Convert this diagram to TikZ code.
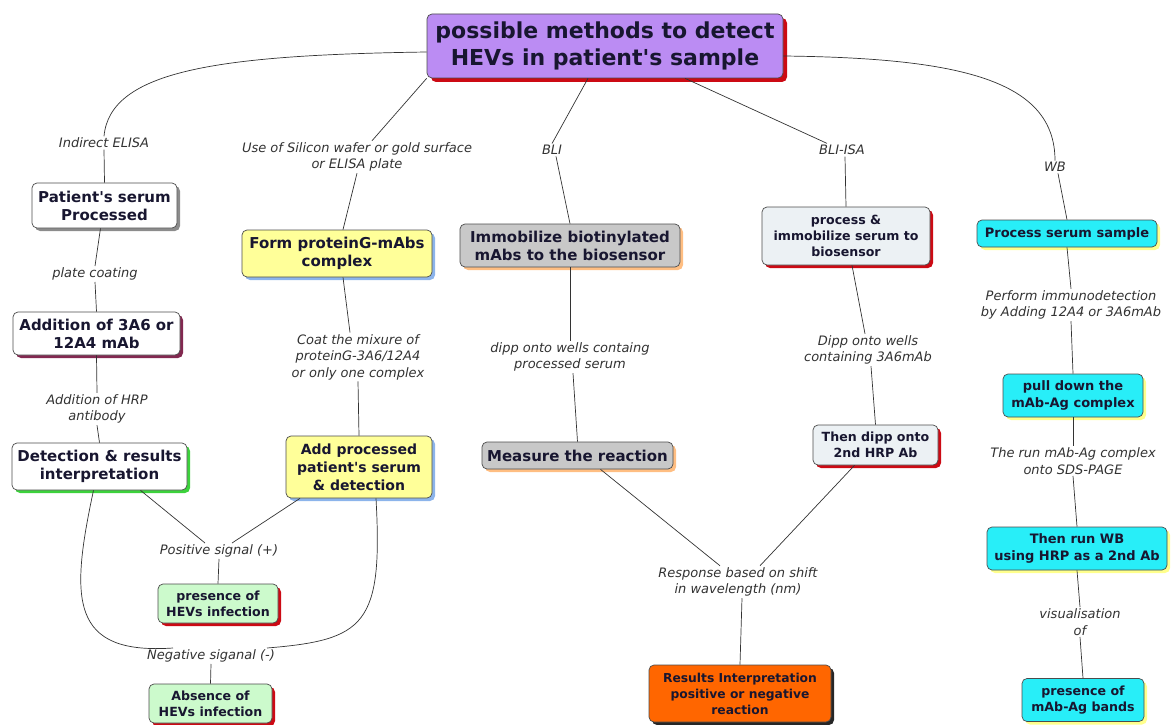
\documentclass[tikz,border=0pt]{standalone}
\usepackage{fontspec}
\setmainfont{DejaVu Sans}
\usetikzlibrary{shadows}

\definecolor{inkc}{RGB}{24,22,48}
\definecolor{lblc}{RGB}{50,50,50}
\definecolor{titlec}{RGB}{187,140,243}
\definecolor{redsh}{RGB}{204,10,20}
\definecolor{paleg}{RGB}{204,250,204}
\definecolor{yelc}{RGB}{255,255,153}
\definecolor{bluesh}{RGB}{140,180,235}
\definecolor{grayc}{RGB}{200,200,200}
\definecolor{orsh}{RGB}{255,190,130}
\definecolor{palec}{RGB}{236,241,244}
\definecolor{orc}{RGB}{255,102,0}
\definecolor{cyanc}{RGB}{40,238,248}
\definecolor{yelsh}{RGB}{255,255,140}
\definecolor{maroonsh}{RGB}{130,40,80}
\definecolor{greensh}{RGB}{60,210,60}

\newcommand{\apos}{\textquotesingle}

\begin{document}
\begin{tikzpicture}[x=1pt,y=1pt,
  box/.style={draw=black!70, line width=0.7pt, rounded corners=5pt,
    align=center, text=inkc, inner sep=0pt},
  shadowed/.style={drop shadow={fill=#1, opacity=1,
    shadow xshift=3pt, shadow yshift=-3pt}},
  sz/.style 2 args={minimum width=#1, minimum height=#2},
  fbig/.style={font=\bfseries\fontsize{15}{18}\selectfont},
  fmid/.style={font=\bfseries\fontsize{13}{17}\selectfont},
  fsmall/.style={font=\bfseries\fontsize{12.6}{16}\selectfont},
  lbl/.style={font=\itshape\fontsize{13}{16.5}\selectfont, text=lblc,
    align=center, inner sep=1.5pt},
  con/.style={draw=black!80, line width=0.7pt}]

\useasboundingbox (0,0) rectangle (1173,-725);

% root concept
\node[box, fill=titlec, sz={356}{64},
  drop shadow={fill=redsh, opacity=1, shadow xshift=4pt, shadow yshift=-4pt},
  font=\bfseries\fontsize{22}{27}\selectfont] (title) at (605,-46)
  {possible methods to detect\\HEVs in patient\apos s sample};

% Indirect ELISA branch
\node[lbl] (lelisa) at (104,-143) {Indirect ELISA};
\node[box, fill=white, shadowed=black!45, sz={145}{45}, fbig] (ps) at (104.5,-205.5)
  {Patient\apos s serum\\Processed};
\node[lbl] (lplate) at (95,-274) {plate coating};
\node[box, fill=white, shadowed=maroonsh, sz={167}{43}, fbig] (add36) at (96.5,-333.5)
  {Addition of 3A6 or\\12A4 mAb};
\node[lbl] (lhrp) at (97,-409) {Addition of HRP\\antibody};
\node[box, fill=white, shadowed=greensh, sz={175}{47}, fbig] (det) at (99.5,-466.5)
  {Detection \& results\\interpretation};
\node[lbl] (lpos) at (219,-551) {Positive signal (+)};
\node[box, fill=paleg, shadowed=redsh, sz={120}{39}, fsmall] (pres) at (218,-603.5)
  {presence of\\HEVs infection};
\node[lbl] (lneg) at (211,-656) {Negative siganal (-)};
\node[box, fill=paleg, shadowed=redsh, sz={123}{39}, fsmall] (abs) at (210.5,-703.5)
  {Absence of\\HEVs infection};

% surface branch
\node[lbl] (lsil) at (357,-157) {Use of Silicon wafer or gold surface\\or ELISA plate};
\node[box, fill=yelc, shadowed=bluesh, sz={190}{47}, fbig] (form) at (337,-253.5)
  {Form proteinG-mAbs\\complex};
\node[lbl] (lcoat) at (358,-357) {Coat the mixure of\\proteinG-3A6/12A4\\or only one complex};
\node[box, fill=yelc, shadowed=bluesh, sz={146}{62},
  font=\bfseries\fontsize{14}{18}\selectfont] (addp) at (359,-467)
  {Add processed\\patient\apos s serum\\\& detection};

% BLI branch
\node[lbl] (lbli) at (552,-150) {BLI};
\node[box, fill=grayc, shadowed=orsh, sz={220}{43}, fbig] (imm) at (570,-245.5)
  {Immobilize biotinylated\\mAbs to the biosensor};
\node[lbl] (ldipp) at (570,-357) {dipp onto wells containg\\processed serum};
\node[box, fill=grayc, shadowed=orsh, sz={191}{27}, fbig] (meas) at (577.5,-455.5)
  {Measure the reaction};
\node[lbl] (lresp) at (738,-582) {Response based on shift\\in wavelength (nm)};
\node[box, fill=orc, shadowed=black!85, sz={182}{57},
  font=\bfseries\fontsize{12.3}{16}\selectfont] (res) at (740,-693.5)
  {Results Interpretation\\positive or negative\\reaction};

% BLI-ISA branch
\node[lbl] (lisa) at (842,-150) {BLI-ISA};
\node[box, fill=palec, shadowed=redsh, sz={168}{58}, fsmall] (proc) at (846,-236)
  {process \&\\immobilize serum to\\biosensor};
\node[lbl] (ldipp2) at (868,-350) {Dipp onto wells\\containing 3A6mAb};
\node[box, fill=palec, shadowed=redsh, sz={125}{40}, fsmall] (then) at (875.5,-445)
  {Then dipp onto\\2nd HRP Ab};

% WB branch
\node[lbl] (lwb) at (1055,-167) {WB};
\node[box, fill=cyanc, shadowed=yelsh, sz={180}{27}, fmid] (pss) at (1067,-233.5)
  {Process serum sample};
\node[lbl] (lperf) at (1071,-305) {Perform immunodetection\\by Adding 12A4 or 3A6mAb};
\node[box, fill=cyanc, shadowed=yelsh, sz={140}{43}, fmid] (pull) at (1073,-395.5)
  {pull down the\\mAb-Ag complex};
\node[lbl] (lrun) at (1073,-461) {The run mAb-Ag complex\\onto SDS-PAGE};
\node[box, fill=cyanc, shadowed=yelsh, sz={180}{43}, fmid] (runwb) at (1077,-548.5)
  {Then run WB\\using HRP as a 2nd Ab};
\node[lbl] (lvis) at (1080,-622) {visualisation\\of};
\node[box, fill=cyanc, shadowed=yelsh, sz={122}{43}, fsmall] (bands) at (1083,-700)
  {presence of\\mAb-Ag bands};

% connectors from the root
\draw[con] ([yshift=-6pt]title.west) .. controls (220,-55) and (110,-70) .. (lelisa.north);
\draw[con] ([yshift=-10pt]title.east) .. controls (960,-58) and (1055,-80) .. (lwb.north);
\draw[con] (title.south west) -- ([xshift=15pt]lsil.north);
\draw[con] ([xshift=-17pt]title.south) -- (lbli.north);
\draw[con] ([xshift=80pt]title.south) -- ([xshift=-15pt]lisa.north);

% Indirect ELISA chain
\draw[con] (lelisa.south) -- (ps.north);
\draw[con] ([xshift=-4pt]ps.south) -- (lplate.north);
\draw[con] (lplate.south) -- (add36.north);
\draw[con] (add36.south) -- (lhrp.north);
\draw[con] (lhrp.south) -- (det.north);
\draw[con] ([xshift=41pt]det.south) -- ([xshift=-14pt]lpos.north);
\draw[con] ([xshift=-59pt]addp.south) -- ([xshift=13pt]lpos.north);
\draw[con] (lpos.south) -- (pres.north);
\draw[con] ([xshift=-6pt]det.south) .. controls (70,-600) and (70,-655) .. ([xshift=-38pt]lneg.north);
\draw[con] ([xshift=17pt]addp.south) .. controls (383,-625) and (365,-640) .. ([xshift=56pt]lneg.north);
\draw[con] (lneg.south) -- (abs.north);

% surface chain
\draw[con] (lsil.south) -- ([xshift=6pt]form.north);
\draw[con] ([xshift=6pt]form.south) -- ([xshift=-8pt]lcoat.north);
\draw[con] (lcoat.south) -- (addp.north);

% BLI chain
\draw[con] ([xshift=4pt]lbli.south) -- (imm.north);
\draw[con] (imm.south) -- (ldipp.north);
\draw[con] ([xshift=3pt]ldipp.south) -- (meas.north);
\draw[con] ([xshift=23pt]meas.south) -- ([xshift=-18pt]lresp.north);
\draw[con] ([xshift=-21pt]then.south) -- ([xshift=22pt]lresp.north);
\draw[con] ([xshift=4pt]lresp.south) -- (res.north);

% BLI-ISA chain
\draw[con] ([xshift=3pt]lisa.south) -- (proc.north);
\draw[con] ([xshift=6pt]proc.south) -- ([xshift=-3pt]ldipp2.north);
\draw[con] ([xshift=3pt]ldipp2.south) -- (then.north);

% WB chain
\draw[con] ([xshift=3pt]lwb.south) -- (pss.north);
\draw[con] (pss.south) -- (lperf.north);
\draw[con] (lperf.south) -- (pull.north);
\draw[con] (pull.south) -- (lrun.north);
\draw[con] (lrun.south) -- (runwb.north);
\draw[con] (runwb.south) -- (lvis.north);
\draw[con] (lvis.south) -- (bands.north);
\end{tikzpicture}
\end{document}
